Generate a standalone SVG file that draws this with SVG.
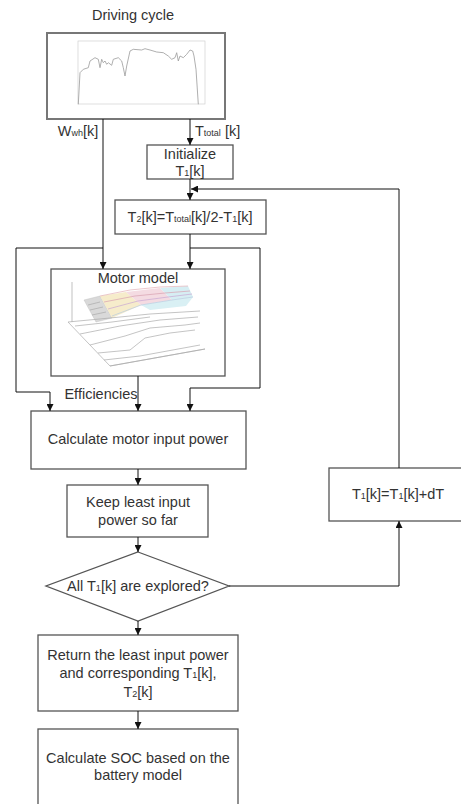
<svg xmlns="http://www.w3.org/2000/svg" width="461" height="804" viewBox="0 0 461 804">
<defs>
<style>
.t{font-family:"Liberation Sans",Arial,sans-serif;font-size:14.5px;fill:#333;text-anchor:middle}
.s{font-size:9px}
.box{fill:#fff;stroke:#555;stroke-width:1.3}
.c{fill:none;stroke:#111;stroke-width:1}
.pl{fill:none;stroke:#aaa;stroke-width:0.7}
</style>
<marker id="ah" viewBox="0 0 10 10" refX="10" refY="5" markerWidth="7" markerHeight="7" markerUnits="userSpaceOnUse" orient="auto">
<path d="M0,0 L10,5 L0,10 Z" fill="#111"/>
</marker>
</defs>
<rect width="461" height="804" fill="#fff"/>

<g id="driving-cycle">
<text class="t" x="133" y="20">Driving cycle</text>
<rect x="47" y="33" width="178" height="86" fill="#fff" stroke="#777" stroke-width="2"/>
<rect x="78" y="41" width="127" height="63" fill="none" stroke="#d0d0d0" stroke-width="0.7"/>
<polyline fill="none" stroke="#9a9a9a" stroke-width="0.8" points="78.3,104.3 80,72.7 83.3,69.3 88.3,67.7 90,61 95,57.7 98.3,59.3 100,67.7 101.7,59.3 103.3,62.7 105,61 106.7,64.3 108.3,62.7 111.7,65.3 113.3,59.3 118.3,57.7 121.7,61 123.3,67.7 125,76 126.7,66 130,51 133.3,49.3 141.7,50 145,48.7 150,50 156.7,52 163.3,52.7 168.3,56 171.7,59.3 175,57.7 176.7,52.7 178.3,61 180,56 183.3,57.7 186.7,54.3 190,50 192.7,51 194,56 196,69.3 198.3,104.3"/>
</g>

<g id="labels">
<text class="t" x="78" y="136">W<tspan class="s">wh</tspan>[k]</text>
<text class="t" x="195" y="136" style="text-anchor:start">T<tspan class="s">total</tspan> [k]</text>
<text class="t" x="101" y="399">Efficiencies</text>
</g>

<g id="initialize">
<rect class="box" x="147" y="145" width="86" height="34"/>
<text class="t" x="190" y="159">Initialize</text>
<text class="t" x="190" y="176">T<tspan class="s">1</tspan>[k]</text>
</g>

<g id="t2">
<rect class="box" x="115" y="200" width="151" height="34"/>
<text class="t" x="190" y="222">T<tspan class="s">2</tspan>[k]=T<tspan class="s">total</tspan>[k]/2-T<tspan class="s">1</tspan>[k]</text>
</g>

<g id="motor-model">
<rect class="box" x="51" y="269" width="174" height="107"/>
<line x1="72" y1="282" x2="72" y2="322" stroke="#999" stroke-width="0.6"/>
<polygon points="84,300 100,296 112,318 96,322" fill="#d9d9d9" stroke="#bbb" stroke-width="0.4"/>
<polygon points="100,296 126,292 141,305 112,318" fill="#f6eccb"/>
<polygon points="126,292 160,288 172,300 141,305" fill="#f4dbe2"/>
<polygon points="160,288 188,286 193,297 172,300" fill="#d6eef3"/>
<polygon points="141,305 172,300 193,297 186,306 150,310" fill="#d9f0f4"/>
<g class="pl">
<polyline points="100,296 130,290 160,287 188,286" stroke="#e3b0b8"/>
<polyline points="104,302 135,296 165,293 190,291" stroke="#d8a0b0"/>
<polyline points="108,309 138,301 168,297 192,294" stroke="#c9a7d3"/>
<polyline points="112,316 141,305 172,300 193,297" stroke="#b7cbe0"/>
<line x1="88" y1="305" x2="100" y2="302"/>
<line x1="90" y1="310" x2="103" y2="307"/>
<line x1="92" y1="315" x2="106" y2="312"/>
<polyline points="68,322 110,366 205,349"/>
<polyline points="68,322 110,318 150,314 200,311"/>
<polyline points="80,334 120,326 160,320 198,317"/>
<polyline points="90,345 125,336 150,328 185,325 200,323"/>
<polyline points="98,353 130,350 145,338 170,333 195,330"/>
<polyline points="104,360 140,356 200,345"/>
<line x1="110" y1="366" x2="205" y2="349"/>
<polyline points="75,326 112,322 150,317"/>
</g>
<text class="t" x="138" y="283">Motor model</text>
</g>

<g id="calc-power">
<rect class="box" x="31" y="411" width="215" height="58"/>
<text class="t" x="138" y="444">Calculate motor input power</text>
</g>

<g id="keep-least">
<rect class="box" x="67" y="485" width="141" height="52"/>
<text class="t" x="138" y="507">Keep least input</text>
<text class="t" x="138" y="525">power so far</text>
</g>

<g id="decision">
<polygon class="box" points="138,552 229,586 138,621 46,586"/>
<text class="t" x="138" y="591">All T<tspan class="s">1</tspan>[k] are explored?</text>
</g>

<g id="increment">
<rect class="box" x="329" y="468" width="140" height="53"/>
<text class="t" x="398" y="499">T<tspan class="s">1</tspan>[k]=T<tspan class="s">1</tspan>[k]+dT</text>
</g>

<g id="return-least">
<rect class="box" x="38" y="635" width="200" height="76"/>
<text class="t" x="138" y="660">Return the least input power</text>
<text class="t" x="138" y="678">and corresponding T<tspan class="s">1</tspan>[k],</text>
<text class="t" x="138" y="697">T<tspan class="s">2</tspan>[k]</text>
</g>

<g id="calc-soc">
<rect class="box" x="38" y="729" width="200" height="80"/>
<text class="t" x="138" y="763">Calculate SOC based on the</text>
<text class="t" x="138" y="780">battery model</text>
</g>

<g id="connectors">
<line class="c" x1="103" y1="119" x2="103" y2="269" marker-end="url(#ah)"/>
<line class="c" x1="190" y1="119" x2="190" y2="145" marker-end="url(#ah)"/>
<line class="c" x1="190" y1="179" x2="190" y2="200" marker-end="url(#ah)"/>
<line class="c" x1="190" y1="234" x2="190" y2="269" marker-end="url(#ah)"/>
<polyline class="c" points="103,248 16,248 16,392 50,392 50,411" marker-end="url(#ah)"/>
<polyline class="c" points="190,248 260,248 260,388 190,388 190,411" marker-end="url(#ah)"/>
<line class="c" x1="138" y1="376" x2="138" y2="411" marker-end="url(#ah)"/>
<line class="c" x1="138" y1="469" x2="138" y2="485" marker-end="url(#ah)"/>
<line class="c" x1="138" y1="537" x2="138" y2="552" marker-end="url(#ah)"/>
<line class="c" x1="138" y1="621" x2="138" y2="635" marker-end="url(#ah)"/>
<line class="c" x1="138" y1="711" x2="138" y2="729" marker-end="url(#ah)"/>
<polyline class="c" points="229,586 399,586 399,521" marker-end="url(#ah)"/>
<polyline class="c" points="399,468 399,189 191,189" marker-end="url(#ah)"/>
</g>
</svg>
